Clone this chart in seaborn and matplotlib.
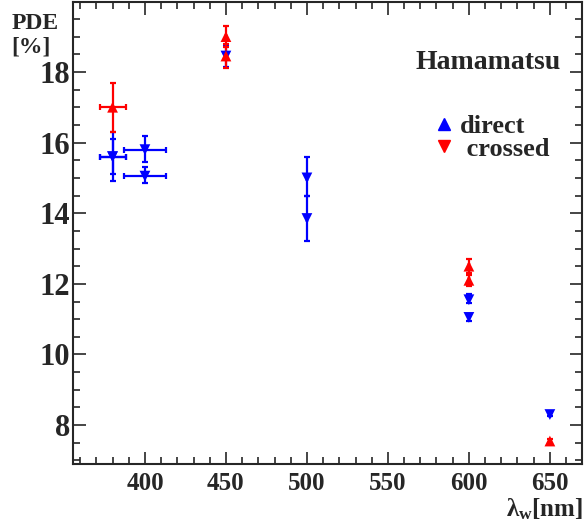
import numpy as np
import pandas as pd
import matplotlib
matplotlib.use("Agg")
import matplotlib.pyplot as plt
from matplotlib.lines import Line2D
from matplotlib.ticker import MultipleLocator
import seaborn as sns

# blue points (drawn with down triangles)
blue_wl = [380, 380, 400, 400, 450, 500, 500, 600, 600, 650]
blue_pde = [15.6, 15.6, 15.8, 15.05, 18.45, 15.0, 13.85, 11.55, 11.05, 8.3]
blue_xerr = [8, 8, 13, 13, 0, 0, 0, 0, 0, 0]
blue_err_lo = [0.7, 0.5, 0.35, 0.2, 0.3, 0.5, 0.65, 0.1, 0.1, 0.05]
blue_err_hi = [0.7, 0.5, 0.4, 0.25, 0.3, 0.6, 0.65, 0.15, 0.1, 0.05]

# red points (drawn with up triangles)
red_wl = [380, 450, 450, 600, 600, 650]
red_pde = [17.0, 19.0, 18.45, 12.5, 12.1, 7.55]
red_xerr = [8, 0, 0, 0, 0, 0]
red_err_lo = [0.7, 0.3, 0.35, 0.2, 0.15, 0.05]
red_err_hi = [0.7, 0.3, 0.35, 0.2, 0.15, 0.05]

df = pd.concat([
    pd.DataFrame({"wl": blue_wl, "pde": blue_pde, "set": "blue"}),
    pd.DataFrame({"wl": red_wl, "pde": red_pde, "set": "red"}),
])

sns.set_style("ticks")
plt.rcParams["font.family"] = ["Liberation Serif", "DejaVu Serif"]
plt.rcParams["font.weight"] = "bold"
plt.rcParams["mathtext.fontset"] = "custom"
plt.rcParams["mathtext.rm"] = "Liberation Serif:bold"
plt.rcParams["mathtext.it"] = "Liberation Serif:bold"
plt.rcParams["mathtext.bf"] = "Liberation Serif:bold"

fig = plt.figure(figsize=(5.87, 5.25), dpi=100)
ax = fig.add_axes([0.1244, 0.1162, 0.867, 0.88])

ax.errorbar(blue_wl, blue_pde, xerr=blue_xerr, yerr=[blue_err_lo, blue_err_hi],
            fmt="none", ecolor="blue", elinewidth=1.6, capsize=2.5, capthick=1.6)
ax.errorbar(red_wl, red_pde, xerr=red_xerr, yerr=[red_err_lo, red_err_hi],
            fmt="none", ecolor="red", elinewidth=1.6, capsize=2.5, capthick=1.6)

sns.scatterplot(data=df, x="wl", y="pde", hue="set", style="set",
                palette={"blue": "blue", "red": "red"},
                markers={"blue": "v", "red": "^"}, s=60, linewidth=0,
                legend=False, ax=ax, zorder=3)

ax.set_xlim(355.6, 669.8)
ax.set_ylim(6.9, 19.98)
ax.xaxis.set_major_locator(MultipleLocator(50))
ax.xaxis.set_minor_locator(MultipleLocator(10))
ax.yaxis.set_major_locator(MultipleLocator(2))
ax.yaxis.set_minor_locator(MultipleLocator(0.5))
ax.tick_params(which="both", direction="in", top=True, right=True, width=1.2)
ax.tick_params(which="major", length=9)
ax.tick_params(which="minor", length=5)
ax.tick_params(axis="x", labelsize=18, pad=6)
ax.tick_params(axis="y", labelsize=22, pad=2)
for sp in ax.spines.values():
    sp.set_linewidth(1.5)
for lab in ax.get_xticklabels() + ax.get_yticklabels():
    lab.set_fontweight("bold")

ax.set_xlabel("")
ax.set_ylabel("")
fig.text(0.02, 0.955, "PDE", fontsize=17, fontweight="bold", ha="left", va="center")
fig.text(0.02, 0.91, "[%]", fontsize=17, fontweight="bold", ha="left", va="center")
fig.text(0.993, 0.03, r"$\lambda_{w}$[nm]", fontsize=18, fontweight="bold",
         ha="right", va="center")

ax.text(0.815, 0.868, "Hamamatsu", transform=ax.transAxes, fontsize=20,
        fontweight="bold", ha="center", va="center")

handles = [
    Line2D([], [], linestyle="none", marker="^", color="blue", markersize=9, label="direct"),
    Line2D([], [], linestyle="none", marker="v", color="red", markersize=9, label=" crossed"),
]
leg = ax.legend(handles=handles, loc="center left", bbox_to_anchor=(0.709, 0.706),
                frameon=False, fontsize=19, handlelength=0.8, handletextpad=0.2,
                labelspacing=-0.05, borderpad=0.0, borderaxespad=0.0)
for t in leg.get_texts():
    t.set_fontweight("bold")

fig.savefig("out.png", dpi=100)
